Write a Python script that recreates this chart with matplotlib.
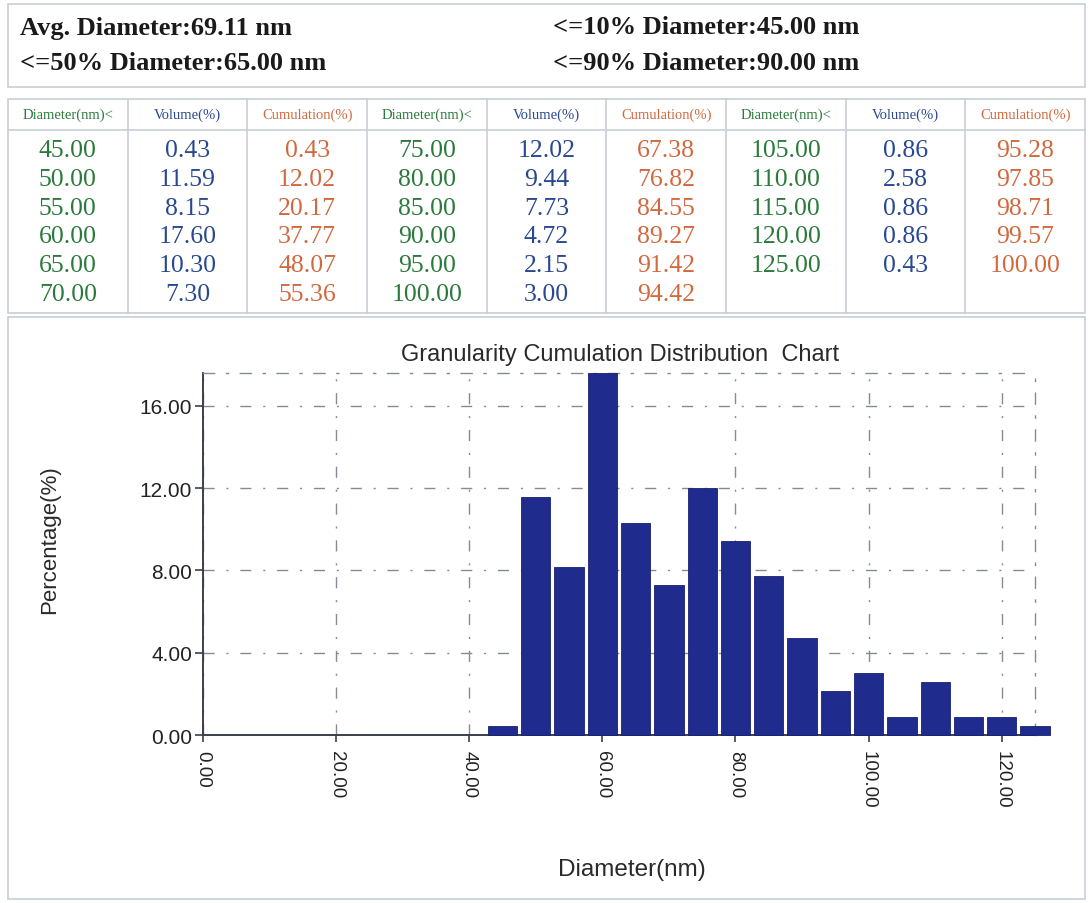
import matplotlib
matplotlib.use("Agg")
import matplotlib.pyplot as plt
from matplotlib.lines import Line2D
from matplotlib.patches import Rectangle
from matplotlib.ticker import FormatStrFormatter

# ---------------- data ----------------
diameters = [45, 50, 55, 60, 65, 70, 75, 80, 85, 90, 95, 100, 105, 110, 115, 120, 125]
volumes = [0.43, 11.59, 8.15, 17.60, 10.30, 7.30, 12.02, 9.44, 7.73, 4.72, 2.15, 3.00,
           0.86, 2.58, 0.86, 0.86, 0.43]
cumulations = [0.43, 12.02, 20.17, 37.77, 48.07, 55.36, 67.38, 76.82, 84.55, 89.27, 91.42,
               94.42, 95.28, 97.85, 98.71, 99.57, 100.00]
summary_labels = ["Avg. Diameter:69.11 nm", "<=10% Diameter:45.00 nm",
                  "<=50% Diameter:65.00 nm", "<=90% Diameter:90.00 nm"]
column_headers = ["Diameter(nm)<", "Volume(%)", "Cumulation(%)"]
x_ticks = [0, 20, 40, 60, 80, 100, 120]
y_ticks = [0, 4, 8, 12, 16]

W, H = 1089, 904
fig = plt.figure(figsize=(W / 100, H / 100), dpi=100)
fig.patch.set_facecolor("white")

def fx(px):
    return px / W

def fy(py):
    return 1 - py / H

border = "#c8cdd6"
green = "#2b7a3b"
blue = "#284890"
orange = "#d2693e"
serif = ["Liberation Serif", "DejaVu Serif"]
sans = ["Liberation Sans", "DejaVu Sans"]

# ---------------- header box ----------------
fig.add_artist(Rectangle((fx(8), fy(88)), fx(1077), 83 / H, transform=fig.transFigure,
                         fill=False, edgecolor=border, lw=1.2))
pos = [(20, 28), (553, 28), (20, 64), (553, 64)]
for (x, y), lab in zip(pos, summary_labels):
    fig.text(fx(x), fy(y), lab, family=serif, weight="bold", fontsize=19,
             ha="left", va="center", color="#1a1a1a")

# ---------------- table ----------------
t_left, t_right, t_top, t_head, t_bot = 8, 1085, 100, 131, 314
ncols = 9
colw = (t_right - t_left) / ncols
fig.add_artist(Rectangle((fx(t_left), fy(t_bot)), fx(t_right - t_left), (t_bot - t_top) / H,
                         transform=fig.transFigure, fill=False, edgecolor=border, lw=1.2))
fig.add_artist(Line2D([fx(t_left), fx(t_right)], [fy(t_head), fy(t_head)],
                      transform=fig.transFigure, color=border, lw=1.2))
for i in range(1, ncols):
    xx = t_left + i * colw
    fig.add_artist(Line2D([fx(xx), fx(xx)], [fy(t_top), fy(t_bot)],
                          transform=fig.transFigure, color=border, lw=1.2))
col_colors = [green, blue, orange]
for i in range(ncols):
    cx = t_left + (i + 0.5) * colw
    fig.text(fx(cx), fy((t_top + t_head) / 2), column_headers[i % 3], family=serif,
             fontsize=10.5, ha="center", va="center", color=col_colors[i % 3])

row_h = 28.8
for k, (d, v, c) in enumerate(zip(diameters, volumes, cumulations)):
    block, row = divmod(k, 6)
    cy = 151 + row * row_h
    vals = [f"{d:.2f}", f"{v:.2f}", f"{c:.2f}"]
    for j in range(3):
        cx = t_left + (block * 3 + j + 0.5) * colw
        fig.text(fx(cx), fy(cy), vals[j], family=serif, fontsize=18.5,
                 ha="center", va="center", color=col_colors[j])

# ---------------- chart panel ----------------
fig.add_artist(Rectangle((fx(8), fy(900)), fx(1077), 582 / H, transform=fig.transFigure,
                         fill=False, edgecolor=border, lw=1.2))

ax_l, ax_r, ax_t, ax_b = 203, 1035, 374, 736
ax = fig.add_axes([fx(ax_l), fy(ax_b), fx(ax_r - ax_l), (ax_b - ax_t) / H])
ax.set_facecolor("none")
ax.bar(diameters, volumes, width=4.4, color="#1f2c8d", edgecolor="#17206e", linewidth=0.6,
       zorder=3, clip_on=False)
ax.set_xlim(0, 125)
ax.set_ylim(0, 17.6)
ax.set_xticks(x_ticks)
ax.set_yticks(y_ticks)
ax.xaxis.set_major_formatter(FormatStrFormatter("%.2f"))
ax.yaxis.set_major_formatter(FormatStrFormatter("%.2f"))

grid_color = "#858a94"
dash = (0, (8, 8.5, 1.5, 8.5))
ax.grid(True, color=grid_color, lw=1.0, linestyle=dash, zorder=1)
for s in ["top", "right"]:
    ax.spines[s].set_linestyle(dash)
    ax.spines[s].set_color(grid_color)
    ax.spines[s].set_linewidth(1.0)
for s in ["left", "bottom"]:
    ax.spines[s].set_color("#3b3f48")
    ax.spines[s].set_linewidth(1.4)

ax.tick_params(axis="y", direction="out", length=6, width=1.2, color="#3b3f48",
               labelsize=15, labelcolor="#222222", pad=2)
ax.tick_params(axis="x", direction="out", length=5, width=1.2, color="#3b3f48",
               labelsize=13.5, labelcolor="#222222", pad=6)
for lab in ax.get_xticklabels():
    lab.set_rotation(-90)
    lab.set_va("top")
    lab.set_ha("center")
for lab in ax.get_xticklabels() + ax.get_yticklabels():
    lab.set_family(sans)

fig.text(fx(620), fy(355), "Granularity Cumulation Distribution  Chart",
         family=sans, fontsize=17, ha="center", va="center", color="#2a2a2a")
fig.text(fx(50), fy(540), "Percentage(%)", family=sans,
         fontsize=16, rotation=90, ha="center", va="center", color="#2a2a2a")
fig.text(fx(632), fy(870), "Diameter(nm)", family=sans,
         fontsize=17.5, ha="center", va="center", color="#2a2a2a")

fig.savefig("out.png", dpi=100, facecolor="white")
